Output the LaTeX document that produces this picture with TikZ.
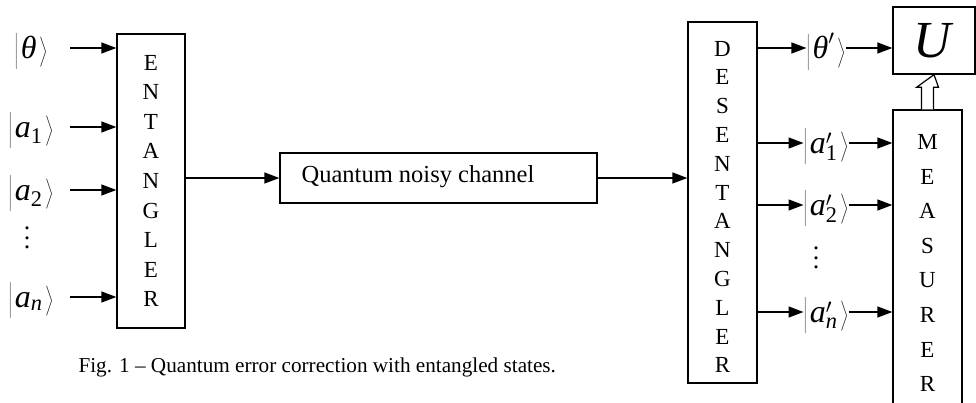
\documentclass[tikz,border=0pt]{standalone}
\usepackage{amstext}
\usepackage{fontspec}
\setmainfont{Liberation Serif}
\usetikzlibrary{arrows.meta,calc}
% vertical ellipsis with wider spacing
\newcommand{\tallvdots}{\vbox{\baselineskip=9.5pt\lineskiplimit=0pt
  \hbox{.}\hbox{.}\hbox{.}}}
% ket with tall delimiters
\newcommand{\tket}[1]{\left|\vrule height 24pt depth 12pt width 0pt\mkern2mu #1\mkern2mu\right\rangle}
\newcommand{\vi}[1]{\textit{#1}}
\newcommand{\sub}[1]{_{\textrm{#1}}}
\tikzset{
  arr/.style={line width=1.3pt,-{Triangle[length=15pt,width=11pt]}},
  lbox/.style={draw,line width=1.3pt,inner sep=0pt,align=center},
  ket/.style={inner sep=0pt,font={\fontsize{32}{36}\selectfont}},
  dts/.style={inner sep=0pt,font={\fontsize{26}{30}\selectfont}},
  plain/.style={line width=1.3pt}
}
\begin{document}
\begin{tikzpicture}[x=1pt,y=-1pt]
\clip (0,0) rectangle (976,403);
% entangler
\node[lbox,minimum width=68,minimum height=294,font={\fontsize{23}{29.6}\selectfont}]
  (ent) at (151,181) {E\\N\\T\\A\\N\\G\\L\\E\\R};
% input states
\node[ket] (k0) at (31,52) {$\tket{\vi{θ}}$};
\node[ket] (k1) at (31,131) {$\tket{\vi{a}\sub{1}}$};
\node[ket] (k2) at (31,194) {$\tket{\vi{a}\sub{2}}$};
\node[dts] (kd) at (27,238) {\tallvdots};
\node[ket] (kn) at (31,301) {$\tket{\vi{a}_{\vi{n}}}$};
\coordinate (i0) at (70,48);
\coordinate (i1) at (70,127);
\coordinate (i2) at (70,190);
\coordinate (in) at (70,297);
\foreach \c in {i0,i1,i2,in}
  \draw[arr] (\c) -- (\c -| ent.west);
% channel
\node[draw,line width=1.3pt,minimum width=317,minimum height=50] (ch) at (438.5,178) {};
\node[font={\fontsize{24.5}{28}\selectfont}] (cht) at (418,177) {Quantum noisy channel};
\draw[arr] (ent.east |- ch) -- (ch.west);
% desentangler
\node[draw,line width=1.3pt,minimum width=69,minimum height=361] (des) at (722.5,202.5) {};
\node[lbox,draw=none,font={\fontsize{23}{28.8}\selectfont}] (dest) at (722.5,207)
  {D\\E\\S\\E\\N\\T\\A\\N\\G\\L\\E\\R};
\draw[arr] (ch.east) -- (ch.east -| des.west);
% output states
\node[ket] (o0) at (826,52) {$\tket{\vi{θ}'}$};
\node[ket] (o1) at (826,147) {$\tket{\vi{a}'\sub{1}}$};
\node[ket] (o2) at (826,209) {$\tket{\vi{a}'\sub{2}}$};
\node[dts] (od) at (816,258) {\tallvdots};
\node[ket] (on) at (826,316) {$\tket{\vi{a}'_{\vi{n}}}$};
% U and measurer
\node[draw,line width=1.3pt,minimum width=82,minimum height=67,inner sep=0pt] (U) at (934,40.5)
  {\fontsize{52}{58}\selectfont\textit{U}};
\node[draw,line width=1.3pt,minimum width=69,minimum height=302] (meas) at (927.5,261) {};
\node[lbox,draw=none,font={\fontsize{23}{34.6}\selectfont}] (meast) at (927.5,263)
  {M\\E\\A\\S\\U\\R\\E\\R};
\coordinate (d0) at (757,48);
\coordinate (d1) at (757,143);
\coordinate (d2) at (757,205);
\coordinate (dn) at (757,312);
\draw[arr] (d0) -- (o0.west |- d0);
\draw[arr] (o0.east |- d0) -- (U.west |- d0);
\foreach \c/\k in {d1/o1,d2/o2,dn/on}{
  \draw[arr] (\c) -- (\k.west |- \c);
  \draw[arr] (\k.east |- \c) -- (meas.west |- \c);
}
% hollow arrow from measurer to U
\draw[plain,line width=1.2pt,fill=white]
  ($(meas.north)+(-6,0)$) -- ($(meas.north)+(-6,-22)$) -- ($(meas.north)+(-11,-22)$)
  -- (U.south) -- ($(meas.north)+(11,-22)$) -- ($(meas.north)+(6,-22)$)
  -- ($(meas.north)+(6,0)$);
% caption
\node[anchor=west,font={\fontsize{21.2}{25}\selectfont}] (cap) at (75,367)
  {Fig. 1 -- Quantum error correction with entangled states.};
\end{tikzpicture}
\end{document}
